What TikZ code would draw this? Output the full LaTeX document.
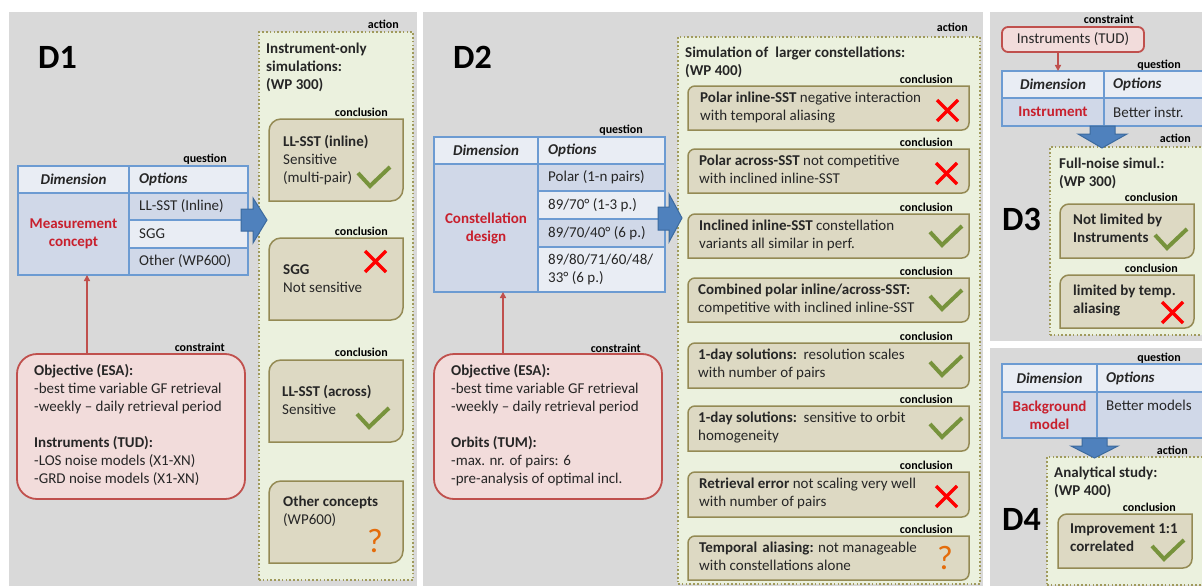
\documentclass[tikz,border=0pt]{standalone}
\usepackage{fontspec}
\setmainfont{Carlito}
\usetikzlibrary{arrows.meta}
\definecolor{panelgray}{HTML}{D9D9D9}
\definecolor{thead}{HTML}{E9EDF4}
\definecolor{tdark}{HTML}{D0D8E8}
\definecolor{tborder}{HTML}{6C9BD2}
\definecolor{redtxt}{HTML}{C8202D}
\definecolor{actfill}{HTML}{EBF1DE}
\definecolor{actdraw}{HTML}{A09A5C}
\definecolor{confill}{HTML}{DDD9C3}
\definecolor{condraw}{HTML}{948A54}
\definecolor{csfill}{HTML}{F2DCDB}
\definecolor{csdraw}{HTML}{C0504D}
\definecolor{arrfill}{HTML}{4F81BD}
\definecolor{arrdraw}{HTML}{3C6A9E}
\definecolor{chkgreen}{HTML}{77933C}
\definecolor{qorange}{HTML}{E46C0A}
\definecolor{txt}{HTML}{262626}
\newcommand\fs{\fontsize{15}{18}\selectfont}
\newcommand\fl{\fontsize{12}{14}\selectfont\bfseries}
\newcommand\cbox[6]{%
  \node[inner sep=0pt, outer sep=0pt, anchor=north west, minimum width=#4-#2, minimum height=#5-#3] (#1) at (#2,#3) {};
  \path[conbox] (#2+#6,#3) -- (#4,#3) -- (#4,#5-#6) .. controls (#4,#5-0.448*#6) and (#4-0.448*#6,#5) .. (#4-#6,#5) -- (#2,#5) -- (#2,#3+#6) .. controls (#2,#3+0.448*#6) and (#2+0.448*#6,#3) .. (#2+#6,#3) -- cycle;}
\newcommand\chk[2]{\draw[chkst] (#1,#2+6) -- (#1+12,#2+19) -- (#1+32,#2);}
\newcommand\crs[2]{\draw[crsst] (#1,#2) -- (#1+21,#2+21) (#1+21,#2) -- (#1,#2+21);}
\tikzset{
  cell/.style={draw=tborder, line width=1.2pt, inner sep=0pt, outer sep=0pt, anchor=north west},
  ctext/.style={font=\fs, text=txt, inner sep=0pt},
  lbl/.style={font=\fl, text=black, inner sep=0pt, anchor=base east},
  body/.style={font=\fs, text=txt, inner sep=0pt, anchor=north west, align=left, execute at begin node=\strut},
  actbox/.style={fill=actfill, draw=actdraw, line width=1.6pt, dash pattern=on 1.6pt off 2.2pt, inner sep=0pt, outer sep=0pt, anchor=north west},
  conbox/.style={fill=confill, draw=condraw, line width=1.5pt},
  csbox/.style={fill=csfill, draw=csdraw, line width=1.8pt, rounded corners=20pt, inner sep=0pt, outer sep=0pt, anchor=north west},
  redarr/.style={draw=csdraw, line width=1.5pt, -{Triangle[length=6pt,width=6pt]}},
  blockarr/.style={fill=arrfill, draw=arrdraw, line width=1pt, line join=miter},
  chkst/.style={draw=chkgreen, line width=4pt},
  crsst/.style={draw=red, line width=3.5pt},
  qm/.style={font=\fontsize{34}{34}\selectfont, text=qorange, inner sep=0pt},
  bigd/.style={font=\fontsize{34}{34}\selectfont\bfseries, text=black, inner sep=0pt, anchor=base west}
}
\begin{document}
\begin{tikzpicture}[x=1pt,y=-1pt]
\useasboundingbox (0,0) rectangle (1202,586);
\clip (0,0) rectangle (1202,586);
\fill[white] (0,0) rectangle (1202,586);
% panels
\fill[panelgray] (9,12) rectangle (417,590);
\fill[panelgray] (423,12) rectangle (983,590);
\fill[panelgray] (990,12) rectangle (1210,341);
\fill[panelgray] (990,348) rectangle (1210,590);

%================ D1
\node[bigd] (d1) at (38,68) {D1};
\node[actbox, minimum width=154, minimum height=548] (act1) at (259,32) {};
\node[lbl] (act1l) at (399,29) {action};
\node[body, font=\fs\bfseries] (act1t) at (266,43) {Instrument-only\\simulations:\\(WP 300)};

\cbox{c11}{269}{119}{403}{201}{12}
\cbox{c12}{269}{238}{403}{320}{12}
\cbox{c13}{269}{360}{403}{442}{12}
\cbox{c14}{269}{481}{403}{563}{12}
\node[lbl] (c11l) at (388,116) {conclusion};
\node[lbl] (c12l) at (388,235) {conclusion};
\node[lbl] (c13l) at (388,356) {conclusion};
\node[body] (c11t) at (283,135) {\textbf{LL-SST (inline)}\\Sensitive\\(multi-pair)};
\node[body] (c12t) at (283,264) {\textbf{SGG}\\Not sensitive};
\node[body] (c13t) at (282,385) {\textbf{LL-SST (across)}\\Sensitive};
\node[body] (c14t) at (283,496) {\textbf{Other concepts}\\(WP600)};
\chk{358}{167}
\crs{365}{251}
\chk{357}{408}
\node[qm] (q1) at (375,541) {?};

% table D1
\node[cell, fill=thead, minimum width=111, minimum height=27] (t1h1) at (18,166) {};
\node[cell, fill=thead, minimum width=119, minimum height=27] (t1h2) at (129,166) {};
\node[cell, fill=tdark, minimum width=111, minimum height=82] (t1d) at (18,193) {};
\node[cell, fill=tdark, minimum width=119, minimum height=27] (t1o1) at (129,193) {};
\node[cell, fill=thead, minimum width=119, minimum height=28] (t1o2) at (129,220) {};
\node[cell, fill=tdark, minimum width=119, minimum height=27] (t1o3) at (129,248) {};
\node[ctext, font=\fs\bfseries\itshape] (t1h1t) at (t1h1.center) {Dimension};
\node[ctext, font=\fs\bfseries\itshape, anchor=west] (t1h2t) at ([xshift=10pt]t1h2.west) {Options};
\node[ctext, font=\fs\bfseries, text=redtxt, align=center] (t1dt) at (t1d.center) {Measurement\\concept};
\node[ctext, anchor=west] (t1o1t) at ([xshift=10pt]t1o1.west) {LL-SST (Inline)};
\node[ctext, anchor=west] (t1o2t) at ([xshift=10pt]t1o2.west) {SGG};
\node[ctext, anchor=west] (t1o3t) at ([xshift=10pt]t1o3.west) {Other (WP600)};
\node[lbl] (t1l) at (227,162) {question};
\path[blockarr] (241,209) -- (253,209) -- (253,198) -- (267,220) -- (253,243) -- (253,231) -- (241,231) -- cycle;

% constraint D1
\node[csbox, minimum width=228, minimum height=145] (cs1) at (17,354) {};
\node[lbl] (cs1l) at (225,351) {constraint};
\node[body] (cs1t) at (34,364) {\textbf{Objective (ESA):}\\-best time variable GF retrieval\\-weekly -- daily retrieval period\\[18pt]\textbf{Instruments (TUD):}\\-LOS noise models (X1-XN)\\-GRD noise models (X1-XN)};
\coordinate (a1) at (87,0);
\draw[redarr] (cs1.north -| a1) -- (t1d.south -| a1);

%================ D2
\node[bigd] (d2) at (453,68) {D2};
\node[actbox, minimum width=302, minimum height=547] (act2) at (678,37) {};
\node[lbl] (act2l) at (968,32) {action};
\node[body, font=\fs\bfseries] (act2t) at (685,47) {Simulation of\hspace{0.25em} larger constellations:\\(WP 400)};

\cbox{c21}{688}{86}{969}{130}{7}
\cbox{c22}{688}{149}{969}{193}{7}
\cbox{c23}{688}{214}{969}{258}{7}
\cbox{c24}{688}{278}{969}{322}{7}
\cbox{c25}{688}{343}{969}{388}{7}
\cbox{c26}{688}{406}{969}{451}{7}
\cbox{c27}{688}{472}{969}{517}{7}
\cbox{c28}{688}{536}{969}{580}{7}
\node[lbl] (c21l) at (953,83) {conclusion};
\node[lbl] (c22l) at (953,146) {conclusion};
\node[lbl] (c23l) at (953,211) {conclusion};
\node[lbl] (c24l) at (953,275) {conclusion};
\node[lbl] (c25l) at (953,340) {conclusion};
\node[lbl] (c26l) at (953,403) {conclusion};
\node[lbl] (c27l) at (953,469) {conclusion};
\node[lbl] (c28l) at (953,533) {conclusion};
\node[body] (c21t) at (700,92) {\textbf{Polar inline-SST} negative interaction\\with temporal aliasing};
\node[body] (c22t) at (699,155) {\textbf{Polar across-SST} not competitive\\with inclined inline-SST};
\node[body] (c23t) at (699,220) {\textbf{Inclined inline-SST} constellation\\variants all similar in perf.};
\node[body] (c24t) at (698,284) {\textbf{Combined polar inline/across-SST:}\\competitive with inclined inline-SST};
\node[body] (c25t) at (698,349) {\textbf{1-day solutions:}\ \ resolution scales\\with number of pairs};
\node[body] (c26t) at (698,412) {\textbf{1-day solutions:}\ \ sensitive to orbit\\homogeneity};
\node[body] (c27t) at (699,478) {\textbf{Retrieval error} not scaling very well\\with number of pairs};
\node[body] (c28t) at (699,542) {\textbf{Temporal\hspace{0.12em} aliasing:} not manageable\\with constellations alone};
\crs{937}{100}
\crs{936}{163}
\chk{930}{226}
\chk{930}{290}
\chk{930}{356}
\chk{930}{418}
\crs{936}{486}
\node[qm] (q2) at (945,558) {?};

% table D2
\node[cell, fill=thead, minimum width=104, minimum height=27] (t2h1) at (434,137) {};
\node[cell, fill=thead, minimum width=127, minimum height=27] (t2h2) at (538,137) {};
\node[cell, fill=tdark, minimum width=104, minimum height=128] (t2d) at (434,164) {};
\node[cell, fill=tdark, minimum width=127, minimum height=27] (t2o1) at (538,164) {};
\node[cell, fill=thead, minimum width=127, minimum height=28] (t2o2) at (538,191) {};
\node[cell, fill=tdark, minimum width=127, minimum height=28] (t2o3) at (538,219) {};
\node[cell, fill=thead, minimum width=127, minimum height=45] (t2o4) at (538,247) {};
\node[ctext, font=\fs\bfseries\itshape] (t2h1t) at (t2h1.center) {Dimension};
\node[ctext, font=\fs\bfseries\itshape, anchor=west] (t2h2t) at ([xshift=10pt]t2h2.west) {Options};
\node[ctext, font=\fs\bfseries, text=redtxt, align=center] (t2dt) at (t2d.center) {Constellation\\design};
\node[ctext, anchor=west] (t2o1t) at ([xshift=10pt]t2o1.west) {Polar (1-n pairs)};
\node[ctext, anchor=west] (t2o2t) at ([xshift=10pt]t2o2.west) {89/70° (1-3 p.)};
\node[ctext, anchor=west] (t2o3t) at ([xshift=10pt]t2o3.west) {89/70/40° (6 p.)};
\node[ctext, anchor=west, align=left] (t2o4t) at ([xshift=10pt]t2o4.west) {89/80/71/60/48/\\33° (6 p.)};
\node[lbl] (t2l) at (643,133) {question};
\path[blockarr] (658,207) -- (669,207) -- (669,194) -- (682,218) -- (669,242) -- (669,230) -- (658,230) -- cycle;

% constraint D2
\node[csbox, minimum width=228, minimum height=145] (cs2) at (434,354) {};
\node[lbl] (cs2l) at (641,352) {constraint};
\node[body] (cs2t) at (451,364) {\textbf{Objective (ESA):}\\-best time variable GF retrieval\\-weekly -- daily retrieval period\\[18pt]\textbf{Orbits (TUM):}\\-max. nr. of pairs: 6\\-pre-analysis of optimal incl.};
\coordinate (a2) at (503,0);
\draw[redarr] (cs2.north -| a2) -- (t2d.south -| a2);

%================ D3
\node[csbox, rounded corners=6pt, minimum width=142, minimum height=25] (cs3) at (1002,27) {};
\node[ctext] (cs3t) at (cs3.center) {Instruments (TUD)};
\node[lbl] (cs3l) at (1134,24) {constraint};
\node[cell, fill=thead, minimum width=102, minimum height=27] (t3h1) at (1002,71) {};
\node[cell, fill=thead, minimum width=110, minimum height=27] (t3h2) at (1104,71) {};
\node[cell, fill=tdark, minimum width=102, minimum height=28] (t3d) at (1002,98) {};
\node[cell, fill=tdark, minimum width=110, minimum height=28] (t3o) at (1104,98) {};
\node[ctext, font=\fs\bfseries\itshape] (t3h1t) at (t3h1.center) {Dimension};
\node[ctext, font=\fs\bfseries\itshape, anchor=west] (t3h2t) at ([xshift=9pt]t3h2.west) {Options};
\node[ctext, font=\fs\bfseries, text=redtxt] (t3dt) at (t3d.center) {Instrument};
\node[ctext, anchor=west] (t3ot) at ([xshift=9pt]t3o.west) {Better instr.};
\node[lbl] (t3l) at (1181,68) {question};
\coordinate (a3) at (1058,0);
\draw[redarr] (cs3.south -| a3) -- (t3h1.north -| a3);

\node[actbox, minimum width=160, minimum height=188] (act3) at (1050,147) {};
\path[blockarr] (1090,126) -- (1115,126) -- (1115,134) -- (1127,134) -- (1102,148) -- (1078,134) -- (1090,134) -- cycle;
\node[lbl] (act3l) at (1191,142) {action};
\node[body, font=\fs\bfseries] (act3t) at (1059,158) {Full-noise simul.:\\(WP 300)};
\node[bigd] (d3) at (1002,230) {D3};
\cbox{c31}{1060}{204}{1194}{258}{9}
\cbox{c32}{1060}{275}{1194}{328}{9}
\node[lbl] (c31l) at (1178,201) {conclusion};
\node[lbl] (c32l) at (1178,272) {conclusion};
\node[body, font=\fs\bfseries] (c31t) at (1073,214) {Not limited by\\Instruments};
\node[body, font=\fs\bfseries] (c32t) at (1073,285) {limited by temp.\\aliasing};
\chk{1155}{229}
\crs{1162}{302}

%================ D4
\node[cell, fill=thead, minimum width=95, minimum height=28] (t4h1) at (1002,364) {};
\node[cell, fill=thead, minimum width=115, minimum height=28] (t4h2) at (1097,364) {};
\node[cell, fill=tdark, minimum width=95, minimum height=46] (t4d) at (1002,392) {};
\node[cell, fill=tdark, minimum width=115, minimum height=46] (t4o) at (1097,392) {};
\node[ctext, font=\fs\bfseries\itshape] (t4h1t) at (t4h1.center) {Dimension};
\node[ctext, font=\fs\bfseries\itshape, anchor=west] (t4h2t) at ([xshift=9pt]t4h2.west) {Options};
\node[ctext, font=\fs\bfseries, text=redtxt, align=center] (t4dt) at (t4d.center) {Background\\model};
\node[ctext, anchor=west] (t4ot) at (1106,405) {Better models};
\node[lbl] (t4l) at (1181,361) {question};

\node[actbox, minimum width=160, minimum height=128] (act4) at (1047,457) {};
\path[blockarr] (1082,438) -- (1107,438) -- (1107,446) -- (1118,446) -- (1094.5,458) -- (1071,446) -- (1082,446) -- cycle;
\node[lbl] (act4l) at (1188,454) {action};
\node[body, font=\fs\bfseries] (act4t) at (1054,467) {Analytical study:\\(WP 400)};
\node[bigd] (d4) at (1002,530) {D4};
\cbox{c41}{1058}{514}{1192}{568}{9}
\node[lbl] (c41l) at (1176,511) {conclusion};
\node[body, font=\fs\bfseries] (c41t) at (1070,524) {Improvement 1:1\\correlated};
\chk{1152}{540}
\end{tikzpicture}
\end{document}
